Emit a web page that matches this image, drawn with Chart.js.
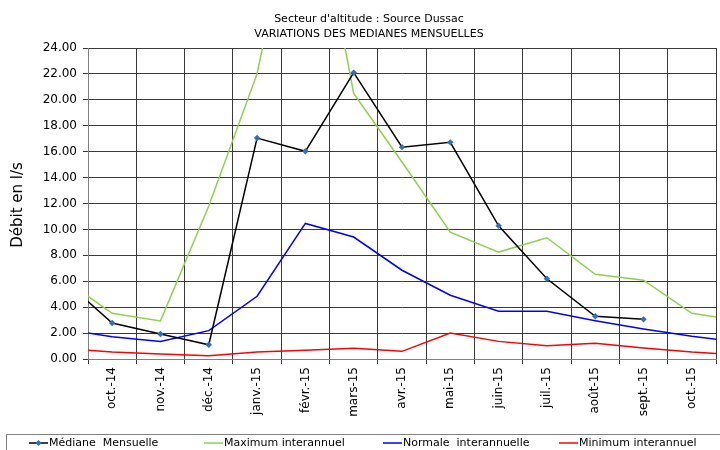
<!DOCTYPE html>
<html>
<head>
<meta charset="utf-8">
<script src="https://cdn.jsdelivr.net/npm/chart.js@4/dist/chart.umd.min.js"></script>
<style>
  html, body { margin: 0; padding: 0; background: #fff; }
  #wrap { width: 720px; height: 450px; }
</style>
</head>
<body>
<div id="wrap"><canvas id="debitChart" width="720" height="450"></canvas></div>
<script>
// mois : le premier et le dernier sont hors du cadre (traits coupés aux bords)
const months = ['sept.-14', 'oct.-14', 'nov.-14', 'déc.-14', 'janv.-15', 'févr.-15', 'mars-15',
  'avr.-15', 'mai-15', 'juin-15', 'juil.-15', 'août-15', 'sept.-15', 'oct.-15', 'nov.-15'];

const mediane = [6.1, 2.78, 1.93, 1.1, 17.05, 16.03, 22.1, 16.35, 16.72, 10.28, 6.19, 3.3, 3.06, null, null];
const maximum = [6.15, 3.53, 2.94, 11.8, 22.0, 40.0, 20.5, 15.2, 9.79, 8.25, 9.36, 6.54, 6.08, 3.53, 2.97];
const normale = [2.3, 1.72, 1.36, 2.19, 4.84, 10.46, 9.41, 6.85, 4.92, 3.68, 3.68, 2.96, 2.32, 1.75, 1.29];
const minimum = [0.8, 0.54, 0.39, 0.26, 0.54, 0.67, 0.82, 0.59, 2.01, 1.36, 1.03, 1.21, 0.85, 0.54, 0.32];

const yTicks = [0, 2, 4, 6, 8, 10, 12, 14, 16, 18, 20, 22, 24];

const titleLines = ["Secteur d'altitude : Source Dussac", 'VARIATIONS DES MEDIANES MENSUELLES'];
const yTitle = 'Débit en l/s';
const FONT = '"DejaVu Sans", Verdana, sans-serif';

const toPoints = arr => arr.map((v, i) => ({ x: i - 1, y: v }));

const series = [
  { label: 'Médiane  Mensuelle', data: mediane, color: '#000000', marker: true },
  { label: 'Maximum interannuel', data: maximum, color: '#8fd14f' },
  { label: 'Normale  interannuelle', data: normale, color: '#0000ff' },
  { label: 'Minimum interannuel', data: minimum, color: '#ff0000' }
];

const gridColor = '#3a3a3a';

// textes + légende encadrée dessinés à la main
const decorPlugin = {
  id: 'decor',
  afterDraw(chart) {
    const ctx = chart.ctx;
    ctx.save();
    ctx.fillStyle = '#000';
    ctx.textAlign = 'center';
    ctx.textBaseline = 'middle';
    ctx.font = '11px ' + FONT;
    ctx.fillText(titleLines[0], 369, 19);
    ctx.fillText(titleLines[1], 369, 34);

    ctx.save();
    ctx.translate(18, 205);
    ctx.rotate(-Math.PI / 2);
    ctx.font = '15px ' + FONT;
    ctx.fillText(yTitle, 0, 0);
    ctx.restore();

    // légende
    ctx.strokeStyle = '#808080';
    ctx.lineWidth = 1;
    ctx.strokeRect(6.5, 434.5, 730, 30);
    const itemX = [29, 204, 383, 559];
    const y = 443;
    ctx.textAlign = 'left';
    ctx.font = '11px ' + FONT;
    series.forEach((s, i) => {
      const x0 = itemX[i];
      ctx.strokeStyle = s.color;
      ctx.lineWidth = 1.5;
      ctx.beginPath();
      ctx.moveTo(x0, y);
      ctx.lineTo(x0 + 19, y);
      ctx.stroke();
      if (s.marker) {
        ctx.fillStyle = '#2f6fbf';
        ctx.beginPath();
        ctx.moveTo(x0 + 9.5, y - 3);
        ctx.lineTo(x0 + 12.5, y);
        ctx.lineTo(x0 + 9.5, y + 3);
        ctx.lineTo(x0 + 6.5, y);
        ctx.closePath();
        ctx.fill();
      }
      ctx.fillStyle = '#000';
      ctx.fillText(s.label, x0 + 20, y);
    });
    ctx.restore();
  }
};

const ctx = document.getElementById('debitChart');

new Chart(ctx, {
  type: 'line',
  data: {
    datasets: series.map(s => ({
      label: s.label,
      data: toPoints(s.data),
      borderColor: s.color,
      backgroundColor: s.marker ? '#2f6fbf' : s.color,
      borderWidth: 1.5,
      pointStyle: 'rectRot',
      pointRadius: s.marker ? 3.2 : 0,
      pointBorderWidth: 0,
      tension: 0,
      spanGaps: false,
      clip: 0
    }))
  },
  options: {
    responsive: false,
    animation: false,
    layout: { padding: { top: 48, right: 2, bottom: 31, left: 0 } },
    plugins: {
      legend: { display: false },
      title: { display: false },
      tooltip: { enabled: false }
    },
    scales: {
      x: {
        type: 'linear',
        min: -0.5,
        max: 12.5,
        afterBuildTicks: axis => {
          const t = [];
          for (let v = -0.5; v <= 12.5; v += 0.5) t.push({ value: v });
          axis.ticks = t;
        },
        afterFit: scale => {
          scale.height = 60;
          scale.paddingLeft = 0;
          scale.paddingRight = 0;
        },
        grid: {
          color: c => (c.tick && Number.isInteger(c.tick.value)) ? 'rgba(0,0,0,0)' : gridColor,
          lineWidth: 1,
          tickLength: 5
        },
        border: { color: '#808080', width: 1 },
        ticks: {
          autoSkip: false,
          minRotation: 90,
          maxRotation: 90,
          padding: 3,
          color: '#000',
          font: { family: FONT, size: 12 },
          callback: v => Number.isInteger(v) ? months[v + 1] : ''
        }
      },
      y: {
        min: 0,
        max: 24,
        afterBuildTicks: axis => { axis.ticks = yTicks.map(v => ({ value: v })); },
        afterFit: scale => { scale.width = 88; },
        grid: { color: gridColor, lineWidth: 1, tickLength: 5 },
        border: { color: '#808080', width: 1 },
        ticks: {
          padding: 6,
          color: '#000',
          font: { family: FONT, size: 12 },
          callback: v => v.toFixed(2)
        }
      }
    }
  },
  plugins: [decorPlugin]
});
</script>
</body>
</html>
